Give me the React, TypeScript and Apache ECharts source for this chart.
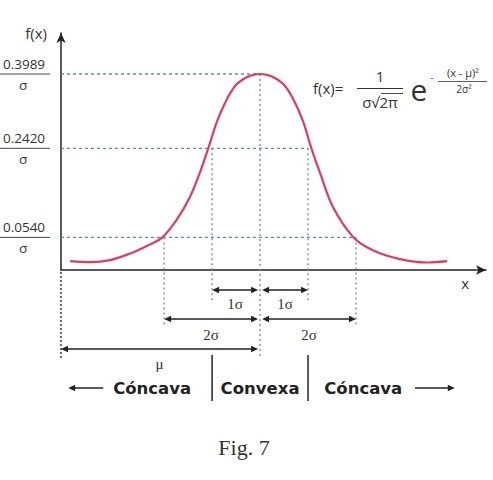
import React, { useEffect, useRef } from "react";
import * as echarts from "echarts";

// ---- data (x in σ units from μ, y = f(x)·σ) ----
const curveX = [-3.96, -3.54, -3.13, -2.71, -2.36, -2.05, -1.74, -1.46, -1.25, -1.07, -0.9, -0.69, -0.49, -0.28, -0.14, 0, 0.14, 0.28, 0.49, 0.69, 0.9, 1.06, 1.25, 1.52, 1.94, 2.35, 2.92, 3.48, 3.9];
const curveY = [0.004, 0.002, 0.006, 0.02, 0.036, 0.053, 0.091, 0.14, 0.192, 0.245, 0.298, 0.346, 0.377, 0.392, 0.397, 0.3989, 0.397, 0.392, 0.377, 0.346, 0.298, 0.245, 0.19, 0.118, 0.055, 0.027, 0.008, 0.001, 0.004];

const levelValues = [0.3989, 0.242, 0.054];
const levelLabels = ["0.3989", "0.2420", "0.0540"];
const levelEnds = [0, 1, 2];

const sigmaMarks = [-2, -1, 0, 1, 2];
const markLevels = [0.054, 0.242, 0.3989, 0.242, 0.054];

const spanFrom = [-1, 0, -2, 0, -4.15];
const spanTo = [0, 1, 0, 2, 0];
const spanLabels = ["1σ", "1σ", "2σ", "2σ", "μ"];

const regionLabels = ["Cóncava", "Convexa", "Cóncava"];
const regionCenters = [-2.25, 0, 2.15];
const separators = [-1, 1];

const caption = "Fig. 7";

// ---- axes ranges ----
const X_MIN = -4.15;
const X_MAX = 4.71;
const Y_MIN = -0.0148;
const Y_MAX = 0.4854;

// ---- layout / style ----
const INK = "#222";
const TXT = "#333";
const BLUE = "#5d8db6";
const CURVE = "#e03c5e";
const LABEL_FONT = '13.5px "Open Sans"';
const SERIF = '15px "Liberation Serif"';
const BOLD = 'bold 16.5px "DejaVu Sans"';
const markDrop = [57, 33, 86, 33, 57];
const spanRow = [20, 20, 49, 49, 79];
const spanLabelRow = [34, 34, 65, 65, 94];

const renderAnnotations = (_params: any, api: any) => {
  const P = (x: number, y: number) => api.coord([x, y]);
  const [ax, ay] = P(X_MIN, Y_MIN);
  const kids: any[] = [];
  const dash = { stroke: BLUE, lineWidth: 1.3, lineDash: [3, 3] };
  const dot = { stroke: BLUE, lineWidth: 1.3, lineDash: [2, 3] };
  const blackDot = { stroke: INK, lineWidth: 1.3, lineDash: [2, 2] };
  const solid = { stroke: INK, lineWidth: 1.5 };
  const line = (x1: number, y1: number, x2: number, y2: number, style: any) =>
    kids.push({ type: "line", shape: { x1, y1, x2, y2 }, style });
  const text = (x: number, y: number, t: string, font: string, fill = TXT, align = "center") =>
    kids.push({ type: "text", x, y, style: { text: t, font, fill, align, verticalAlign: "middle" } });
  const head = (x: number, y: number, dir: number) =>
    kids.push({
      type: "polygon",
      shape: { points: [[x, y], [x - dir * 7, y - 3.2], [x - dir * 7, y + 3.2]] },
      style: { fill: INK },
    });

  // level lines with fraction labels
  levelValues.forEach((v, i) => {
    const [ex, ey] = P(levelEnds[i], v);
    line(ax, ey, ex, ey, dash);
    line(ax - 61, ey, ax - 11, ey, { stroke: "#444", lineWidth: 1 });
    text(ax - 37, ey - 10, levelLabels[i], LABEL_FONT);
    text(ax - 38, ey + 11, "σ", LABEL_FONT);
  });

  // vertical sigma lines
  sigmaMarks.forEach((m, i) => {
    const [mx, my] = P(m, markLevels[i]);
    line(mx, my, mx, ay + markDrop[i], dot);
  });
  line(ax, ay + 2, ax, ay + 88, blackDot);

  // span arrows
  const [mux] = P(0, 0);
  spanFrom.forEach((f, i) => {
    let [x1] = P(f, 0);
    let [x2] = P(spanTo[i], 0);
    if (Math.abs(x2 - mux) < 0.5) x2 -= 2;
    if (Math.abs(x1 - mux) < 0.5) x1 += 2;
    const y = ay + spanRow[i];
    line(x1 + 2, y, x2 - 2, y, solid);
    head(x1, y, -1);
    head(x2, y, 1);
    text((x1 + x2) / 2, ay + spanLabelRow[i], spanLabels[i], SERIF, TXT);
  });

  // separators
  separators.forEach((s) => {
    const [sx] = P(s, 0);
    line(sx, ay + 85, sx, ay + 131, { stroke: INK, lineWidth: 1.5 });
  });

  // region labels
  regionLabels.forEach((r, i) => {
    const [rx] = P(regionCenters[i], 0);
    text(rx, ay + 118, r, BOLD, INK);
  });
  // region arrows
  const [l1] = P(-4.0, 0);
  const [l2] = P(-3.27, 0);
  line(l1 + 3, ay + 118, l2, ay + 118, solid);
  head(l1, ay + 118, -1);
  const [r1] = P(3.23, 0);
  const [r2] = P(4.06, 0);
  line(r1, ay + 118, r2 - 3, ay + 118, solid);
  head(r2, ay + 118, 1);

  return { type: "group", children: kids };
};

const gtext = (x: number, y: number, text: string, font: string, align = "center") => ({
  type: "text",
  x,
  y,
  style: { text, font, fill: TXT, align, verticalAlign: "middle" },
});

const option: any = {
  animation: false,
  backgroundColor: "#fff",
  grid: { left: 61, right: 7, top: 33, bottom: 210 },
  xAxis: {
    type: "value",
    min: X_MIN,
    max: X_MAX,
    name: "x",
    nameLocation: "end",
    nameGap: 0,
    nameTextStyle: { color: TXT, fontSize: 15, fontFamily: "Open Sans", align: "right", verticalAlign: "top", padding: [5, 17, 0, 0] },
    axisLine: { show: true, onZero: false, symbol: ["none", "arrow"], symbolSize: [7, 10], lineStyle: { color: INK, width: 1.5 } },
    axisTick: { show: false },
    axisLabel: { show: false },
    splitLine: { show: false },
  },
  yAxis: {
    type: "value",
    min: Y_MIN,
    max: Y_MAX,
    name: "f(x)",
    nameLocation: "end",
    nameGap: 0,
    nameTextStyle: { color: TXT, fontSize: 15, fontFamily: "Open Sans", align: "right", verticalAlign: "middle", padding: [0, 14, 0, 0] },
    axisLine: { show: true, onZero: false, symbol: ["none", "arrow"], symbolSize: [7, 10], lineStyle: { color: INK, width: 1.5 } },
    axisTick: { show: false },
    axisLabel: { show: false },
    splitLine: { show: false },
  },
  series: [
    {
      type: "custom",
      coordinateSystem: "cartesian2d",
      clip: false,
      silent: true,
      z: 1,
      data: [[0, 0]],
      renderItem: renderAnnotations,
    },
    {
      type: "line",
      data: curveX.map((x, i) => [x, curveY[i]]),
      smooth: 0.35,
      showSymbol: false,
      z: 3,
      lineStyle: { color: CURVE, width: 2.2 },
      silent: true,
    },
  ],
  graphic: [
    gtext(313, 88, "f(x)=", '15px "Open Sans"', "left"),
    gtext(380, 76, "1", '15px "Open Sans"'),
    { type: "line", shape: { x1: 357, y1: 88.5, x2: 403, y2: 88.5 }, style: { stroke: TXT, lineWidth: 1 } },
    gtext(380, 101.5, "σ√2π", '15px "Open Sans"'),
    { type: "line", shape: { x1: 381, y1: 93.5, x2: 403, y2: 93.5 }, style: { stroke: TXT, lineWidth: 0.9 } },
    gtext(419, 89, "e", '30px "Open Sans"'),
    gtext(432, 77, "-", '9px "Open Sans"'),
    gtext(463, 72, "(x - μ)²", '11px "Open Sans"'),
    { type: "line", shape: { x1: 438, y1: 81.5, x2: 487, y2: 81.5 }, style: { stroke: TXT, lineWidth: 0.8 } },
    gtext(464, 89, "2σ²", '10px "Open Sans"'),
    gtext(244, 447, caption, '22px "Liberation Serif"'),
  ],
};

export default function App() {
  const ref = useRef<HTMLDivElement>(null);
  useEffect(() => {
    const chart = echarts.init(ref.current!, null, { renderer: "svg" });
    chart.setOption(option);
    return () => chart.dispose();
  }, []);
  return (
    <div
      ref={ref}
      style={{ position: "absolute", left: 0, top: 0, width: 493, height: 480, background: "#fff" }}
    />
  );
}
